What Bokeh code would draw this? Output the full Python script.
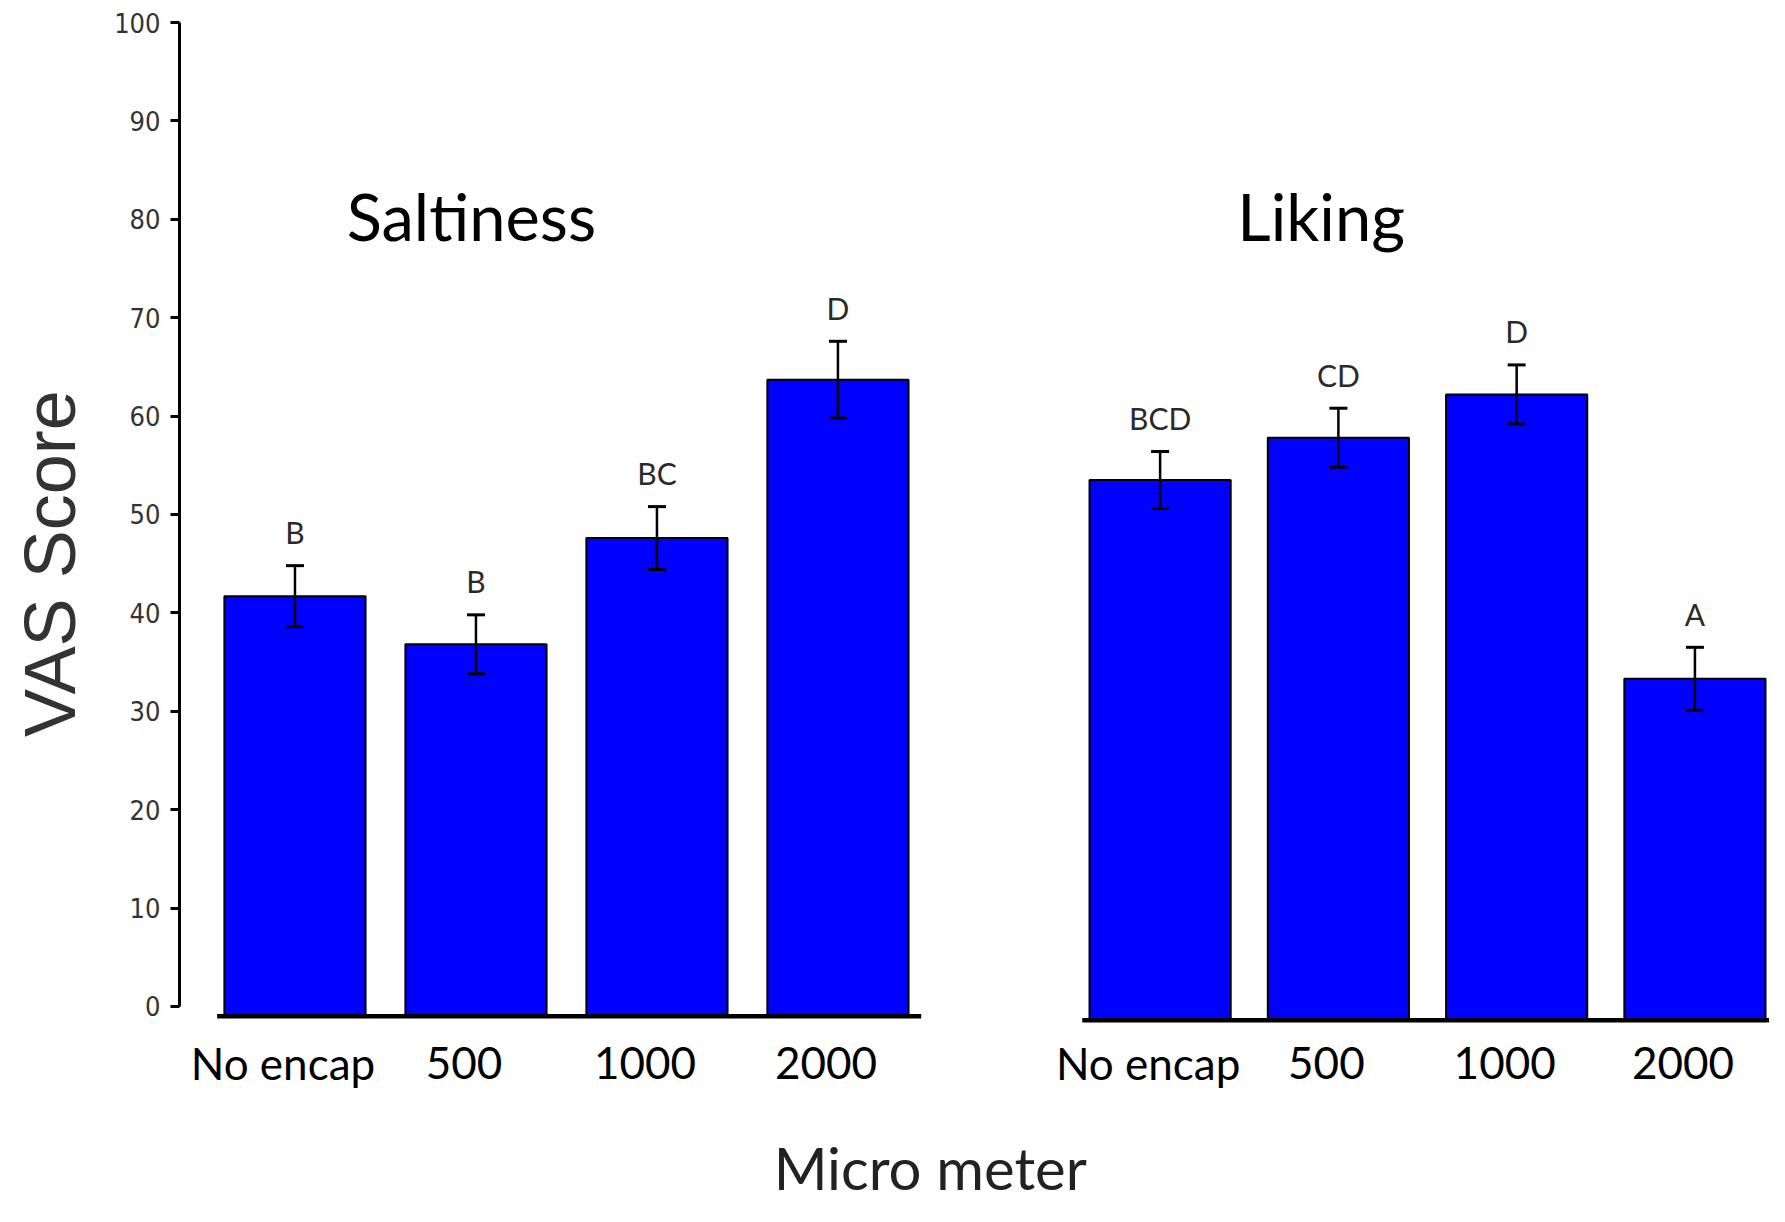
import math

from bokeh.plotting import figure
from bokeh.layouts import row
from bokeh.models import ColumnDataSource, Range1d, Label, Whisker, TeeHead, FixedTicker
from bokeh.core.properties import value
from bokeh.embed import file_html
from bokeh.resources import INLINE

# Values
categories = ["No encap", "500", "1000", "2000"]

saltiness = [41.7, 36.8, 47.6, 63.7]
saltiness_err = [3.1, 3.0, 3.2, 3.9]
saltiness_letters = ["B", "B", "BC", "D"]

liking = [53.5, 57.8, 62.2, 33.3]
liking_err = [2.9, 3.0, 3.0, 3.2]
liking_letters = ["BCD", "CD", "D", "A"]

y_ticks = list(range(0, 101, 10))

BLUE = "#0000FF"
SANS = "Lato"
NARROW = "'Liberation Sans Narrow', 'DejaVu Sans Condensed', sans-serif"

HEIGHT = 1206
LABEL_W = 99      # strip holding the rotated y title
AXIS_W = 80       # room for the y axis ticks and labels


def positions(start, step):
    return [start + step * i for i in range(len(categories))]


y_range = Range1d(-20.33, 100)

# Main figure: one frame holding both panels, y axis only on the left
p = figure(
    width=1769 - LABEL_W, height=HEIGHT,
    x_range=Range1d(0.362, 9.147), y_range=y_range,
    x_axis_location=None, y_axis_location="left",
    toolbar_location=None, output_backend="svg",
    min_border_left=AXIS_W, min_border_right=0, min_border_top=22, min_border_bottom=0,
)
p.xgrid.grid_line_color = None
p.ygrid.grid_line_color = None
p.outline_line_color = None

# Y axis styling
yaxis = p.yaxis[0]
yaxis.ticker = FixedTicker(ticks=y_ticks)
yaxis.bounds = (0, 100)
yaxis.axis_line_width = 3
yaxis.major_tick_line_width = 3
yaxis.major_tick_out = 9
yaxis.major_tick_in = 0
yaxis.minor_tick_out = 0
yaxis.minor_tick_in = 0
yaxis.major_label_standoff = 10
yaxis.major_label_text_font = NARROW
yaxis.major_label_text_font_size = "27px"
yaxis.major_label_text_color = "#333333"

panels = [
    # title, bar positions, means, errors, letters, baseline, title shift
    ("Saltiness", positions(1.0, 1.0), saltiness, saltiness_err, saltiness_letters, -1.0, 0.975),
    ("Liking", positions(5.78, 0.985), liking, liking_err, liking_letters, -1.4, 0.89),
]

for title, xs, vals, errs, letters, base, shift in panels:
    src = ColumnDataSource(dict(
        x=xs,
        top=vals,
        upper=[v + e for v, e in zip(vals, errs)],
        lower=[v - e for v, e in zip(vals, errs)],
        letter_y=[v + e + 3.4 for v, e in zip(vals, errs)],
        letters=letters,
        cat=categories,
    ))
    # Bars
    p.vbar(x="x", top="top", bottom=base, width=0.78, source=src,
           fill_color=BLUE, line_color="black", line_width=2)
    # Error bars, drawn over the bars
    whisker = Whisker(
        source=src, base="x", upper="upper", lower="lower", level="overlay",
        line_color="black", line_width=2.5,
        upper_head=TeeHead(size=18, line_width=3, line_color="black"),
        lower_head=TeeHead(size=18, line_width=3, line_color="black"),
    )
    p.add_layout(whisker)
    # Significance letters
    p.text(x="x", y="letter_y", text="letters", source=src,
           text_font=value(SANS), text_font_size="30px", text_color="#2a2a2a",
           text_align="center", text_baseline="middle")
    # Category labels under each bar
    p.text(x="x", y=-5.7, text="cat", source=src, x_offset=-12,
           text_font=value(SANS), text_font_size="44px", text_color="black",
           text_align="center", text_baseline="middle")
    # Thick baseline of the panel
    p.segment(x0=xs[0] - 0.43, y0=base, x1=xs[-1] + 0.46, y1=base,
              line_color="black", line_width=4.5)
    # Panel title
    p.add_layout(Label(x=xs[0] + shift, y=80.3, text=title,
                       text_font=SANS, text_font_size="65px", text_color="black",
                       text_align="center", text_baseline="middle"))

p.add_layout(Label(x=4.51, y=-19.9, text="Micro meter",
                   text_font=SANS, text_font_size="58px", text_color="#222222",
                   text_align="center", text_baseline="bottom"))

# Narrow strip on the left for the rotated y title
lab = figure(
    width=LABEL_W, height=HEIGHT,
    x_range=Range1d(0, LABEL_W), y_range=y_range,
    x_axis_location=None, y_axis_location=None,
    toolbar_location=None, output_backend="svg",
    min_border_left=0, min_border_right=0, min_border_top=22, min_border_bottom=0,
)
lab.xgrid.grid_line_color = None
lab.ygrid.grid_line_color = None
lab.outline_line_color = None
lab.text(x=[49], y=[45.0], text=["VAS Score"], angle=math.pi / 2,
         text_font=value("Liberation Sans"), text_font_size="72px", text_color="#333333",
         text_align="center", text_baseline="middle")

layout = row(lab, p)

open("out.html", "w").write(file_html(layout, INLINE))
